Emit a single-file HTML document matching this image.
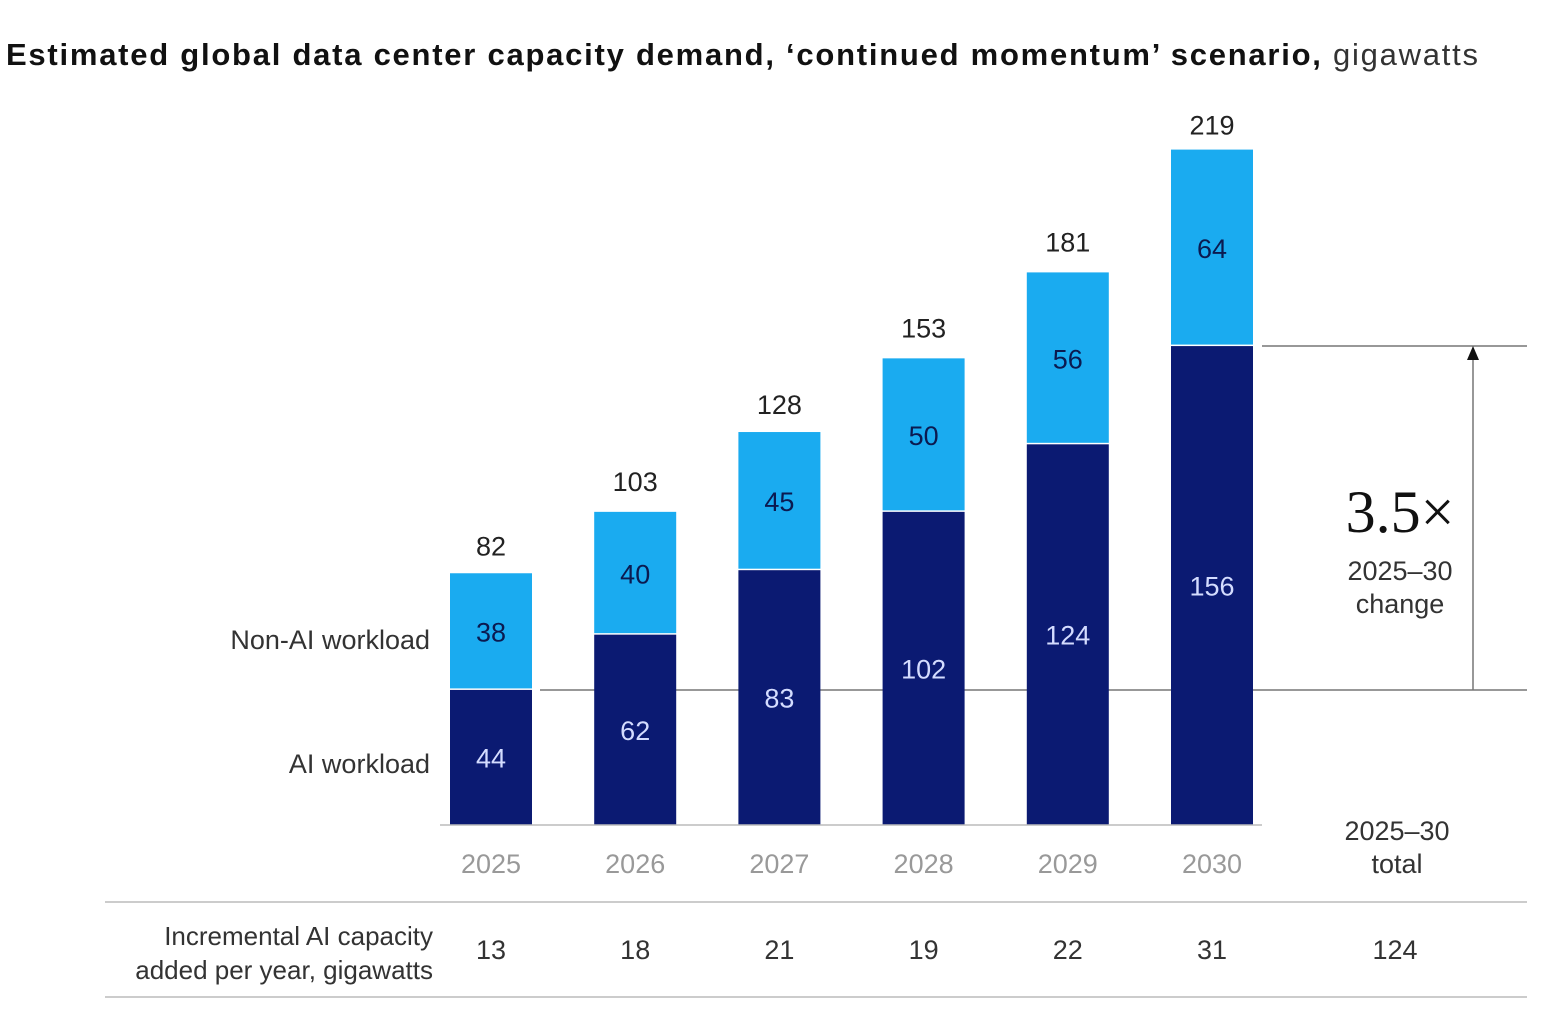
<!DOCTYPE html>
<html><head><meta charset="utf-8"><style>
body{margin:0;background:#fff;width:1542px;height:1012px;overflow:hidden;font-family:"Liberation Sans",sans-serif}
</style></head><body>
<svg width="1542" height="1012" font-family="Liberation Sans, sans-serif">
<text x="6" y="65" font-size="31" fill="#111" textLength="1472" lengthAdjust="spacing"><tspan font-weight="bold">Estimated global data center capacity demand, ‘continued momentum’ scenario,</tspan><tspan fill="#333"> gigawatts</tspan></text>
<line x1="540" y1="690" x2="1527" y2="690" stroke="#777" stroke-width="1.5"/>
<line x1="1262" y1="346" x2="1527" y2="346" stroke="#777" stroke-width="1.5"/>
<g id="marks"></g>
<line x1="1473" y1="690" x2="1473" y2="358" stroke="#777" stroke-width="1.5"/>
<polygon points="1467,360 1479,360 1473,346" fill="#111"/>
<text x="1400" y="532" font-size="60" font-family="Liberation Serif, serif" text-anchor="middle" fill="#111">3.5×</text>
<text x="1400" y="580" font-size="27" text-anchor="middle" fill="#333">2025–30</text>
<text x="1400" y="613" font-size="27" text-anchor="middle" fill="#333">change</text>
<text x="430" y="649" font-size="27" text-anchor="end" fill="#333">Non-AI workload</text>
<text x="430" y="773" font-size="27" text-anchor="end" fill="#333">AI workload</text>
<line x1="440" y1="825" x2="1262" y2="825" stroke="#bbb" stroke-width="1.5"/>
<text x="1397" y="840" font-size="27" text-anchor="middle" fill="#333">2025–30</text>
<text x="1397" y="873" font-size="27" text-anchor="middle" fill="#333">total</text>
<line x1="105" y1="902" x2="1527" y2="902" stroke="#ccc" stroke-width="2"/>
<line x1="105" y1="997" x2="1527" y2="997" stroke="#ccc" stroke-width="2"/>
<text x="433" y="945" font-size="26" text-anchor="end" fill="#333">Incremental AI capacity</text>
<text x="433" y="979" font-size="26" text-anchor="end" fill="#333">added per year, gigawatts</text>
<text x="1395" y="959" font-size="27" text-anchor="middle" fill="#333">124</text>
</svg>
<script>
const years=["2025","2026","2027","2028","2029","2030"];
const ai=[44,62,83,102,124,156];
const nonAi=[38,40,45,50,56,64];
const totals=[82,103,128,153,181,219];
const incremental=[13,18,21,19,22,31];
const base=825, k=3.07, x0=491, step=144.2, bw=82;
const yv=v=>base-v*k, xc=i=>x0+i*step;
const g=document.getElementById('marks');
const NS='http://www.w3.org/2000/svg';
function mk(t,a,txt){const e=document.createElementNS(NS,t);for(const n in a)e.setAttribute(n,a[n]);if(txt!==undefined)e.textContent=txt;g.appendChild(e);return e;}
years.forEach((yr,i)=>{
  const c=xc(i);
  let e=mk('rect',{x:c-bw/2,y:yv(ai[i]),width:bw,height:ai[i]*k,fill:'#0b1a72'});
  
  
  e=mk('rect',{x:c-bw/2,y:yv(ai[i]+nonAi[i]),width:bw,height:nonAi[i]*k-1.5,fill:'#1aabf0'});
  
  
  e=mk('text',{x:c,y:(yv(0)+yv(ai[i]))/2+10,'font-size':27,'text-anchor':'middle',fill:'#d4dcff'},ai[i]);
  
  
  e=mk('text',{x:c,y:(yv(ai[i])+yv(ai[i]+nonAi[i]))/2+10,'font-size':27,'text-anchor':'middle',fill:'#0b1a50'},nonAi[i]);
  
  
  e=mk('text',{x:c,y:yv(totals[i])-18,'font-size':27,'text-anchor':'middle',fill:'#222'},totals[i]);
  
  
  e=mk('text',{x:c,y:873,'font-size':27,'text-anchor':'middle',fill:'#999'},yr);
  
  
  e=mk('text',{x:c,y:959,'font-size':27,'text-anchor':'middle',fill:'#333'},incremental[i]);
  
  
});
</script>
</body></html>
